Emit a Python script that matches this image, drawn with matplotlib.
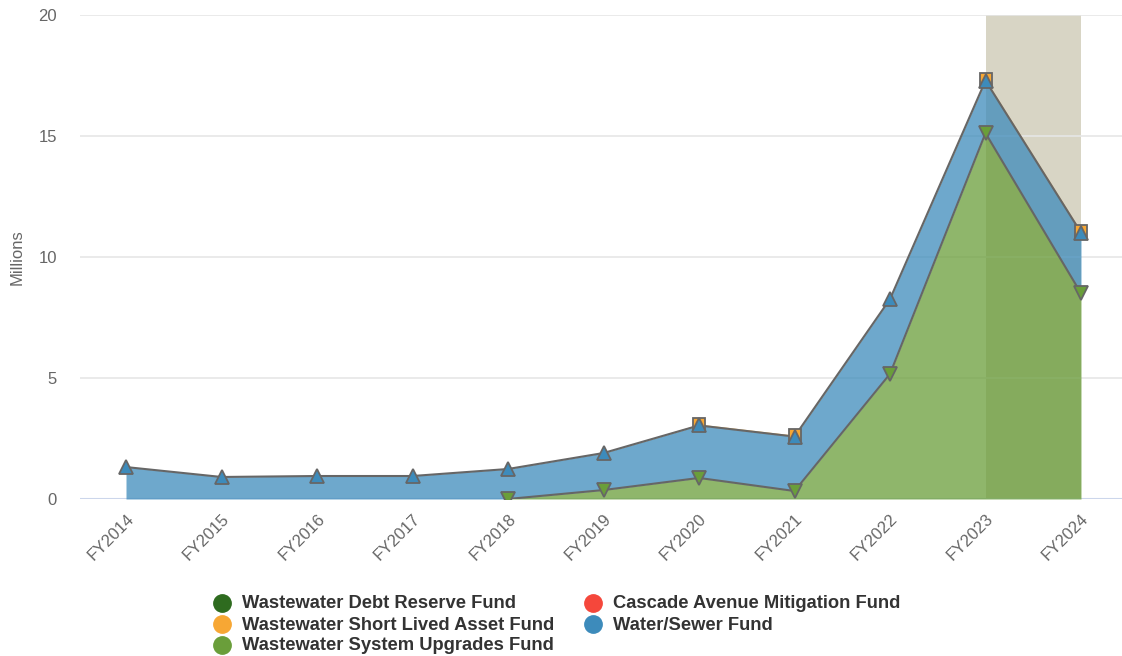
import matplotlib
matplotlib.use("Agg")
import matplotlib.pyplot as plt
import numpy as np
from matplotlib.lines import Line2D

plt.rcParams['font.family'] = ['Liberation Sans', 'DejaVu Sans']

categories = ["FY2014", "FY2015", "FY2016", "FY2017", "FY2018", "FY2019",
              "FY2020", "FY2021", "FY2022", "FY2023", "FY2024"]
# values in millions (None = no data)
system_upgrades = [None, None, None, None, 0.0, 0.37, 0.87, 0.33, 5.17, 15.12, 8.50]
water_sewer = [1.32, 0.91, 0.95, 0.95, 1.24, 1.53, 2.17, 2.25, 3.09, 2.17, 2.51]
short_lived = [None, None, None, None, None, None, 0.06, 0.06, None, 0.06, 0.06]
debt_reserve = [None] * 11
cascade = [None] * 11

yticks = [0, 5, 10, 15, 20]
highlight = ("FY2023", "FY2024")

c_green = "#6a9e3a"
c_blue = "#3d8bbb"
c_orange = "#f7a734"
c_dkgreen = "#2e6b1f"
c_red = "#f5473b"
edge = "#666666"

def arr(v):
    return np.array([np.nan if a is None else a for a in v], dtype=float)

x = np.arange(len(categories))
g = arr(system_upgrades)
b = arr(water_sewer)
o = arr(short_lived)
g0 = np.nan_to_num(g)
b_top = g0 + b
o0 = np.nan_to_num(o)
o_top = b_top + o0

W, H = 1122, 656
fig = plt.figure(figsize=(W/100, H/100), dpi=100)
ax = fig.add_axes([80/W, 157/H, 1042/W, 484/H])
px = 95.5
ax.set_xlim(-(126-80)/px, (1122-126)/px)
ax.set_ylim(0, 20)

# highlight band
i0, i1 = categories.index(highlight[0]), categories.index(highlight[1])
ax.axvspan(i0, i1, color="#d8d5c5", zorder=0.5, lw=0)

for t in yticks[1:]:
    ax.axhline(t, color="#e6e6e6", lw=1.2, zorder=1)
ax.axhline(0, color="#ccd6eb", lw=1.5, zorder=1)

alpha = 0.75
mg = ~np.isnan(g)
ax.fill_between(x[mg], 0, g[mg], color=c_green, alpha=alpha, lw=0, zorder=2)
ax.fill_between(x, g0, b_top, color=c_blue, alpha=alpha, lw=0, zorder=2)
ax.fill_between(x, b_top, o_top, color=c_orange, alpha=alpha, lw=0, zorder=2)

ax.plot(x, b_top, color=edge, lw=1.5, zorder=3)
ax.plot(x[mg], g[mg], color=edge, lw=1.5, zorder=3)

mo = ~np.isnan(o)
ax.plot(x[mo], o_top[mo], ls="none", marker="s", ms=9, mfc=c_orange, mec=edge, mew=1.3, zorder=4)
ax.plot(x, b_top, ls="none", marker="^", ms=9.5, mfc=c_blue, mec=edge, mew=1.3, zorder=5)
ax.plot(x[mg], g[mg], ls="none", marker="v", ms=9.5, mfc=c_green, mec=edge, mew=1.3, zorder=5)

for s in ax.spines.values():
    s.set_visible(False)
ax.set_yticks(yticks)
ax.set_yticklabels([str(t) for t in yticks])
ax.set_xticks(x)
ax.set_xticklabels(categories, rotation=45, ha="right", va="top", rotation_mode="anchor")
ax.tick_params(axis="both", length=0, labelsize=12, labelcolor="#666666")
ax.tick_params(axis="y", pad=16.5)
ax.tick_params(axis="x", pad=9)
ax.set_ylabel("Millions", fontsize=12, color="#666666")
ax.yaxis.set_label_coords((25-80)/1042, 0.5)

# legend, drawn manually in two columns
names = ["Wastewater Debt Reserve Fund", "Wastewater Short Lived Asset Fund",
         "Wastewater System Upgrades Fund", "Cascade Avenue Mitigation Fund",
         "Water/Sewer Fund"]
cols = [c_dkgreen, c_orange, c_green, c_red, c_blue]
pos = [(222, 603), (222, 624), (222, 645), (593, 603), (593, 624)]
for name, c, (mx, my) in zip(names, cols, pos):
    fig.add_artist(Line2D([mx/W], [1-my/H], ls="none", marker="o", ms=12.5,
                          mfc=c, mec=c, transform=fig.transFigure))
    fig.text((mx+20)/W, 1-(my+1)/H, name, fontsize=13.2, fontweight="bold",
             color="#333333", ha="left", va="center")

fig.savefig("out.png", dpi=100)
